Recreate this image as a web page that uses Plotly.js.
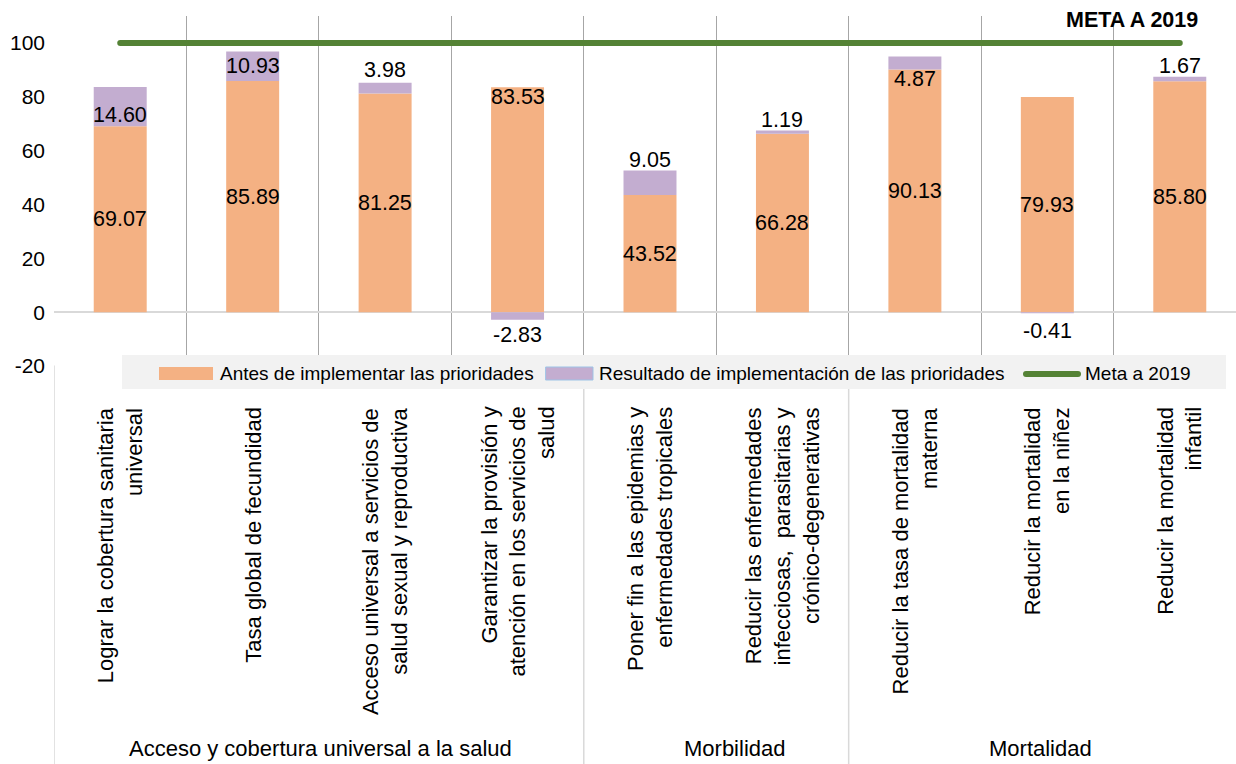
<!DOCTYPE html>
<html>
<head>
<meta charset="utf-8">
<script src="https://cdn.plot.ly/plotly-3.0.1.min.js"></script>
<style>
html,body{margin:0;padding:0;overflow:hidden;background:#ffffff;}
#chart{width:1246px;height:764px;}
#chart .scatterlayer .js-line{stroke-linecap:round;}
#chart .shapelayer path{stroke-linecap:round;}
</style>
</head>
<body>
<div id="chart"></div>
<script>
// ---------- DATA ----------
const categories = [
  "Lograr la cobertura sanitaria<br>universal",
  "Tasa global de fecundidad",
  "Acceso universal a servicios de<br>salud sexual y reproductiva",
  "Garantizar la provisión y<br>atención en los servicios de<br>salud",
  "Poner fin a las epidemias y<br>enfermedades tropicales",
  "Reducir las enfermedades<br>infecciosas,\u00a0 parasitarias y<br>crónico-degenerativas",
  "Reducir la tasa de mortalidad<br>materna",
  "Reducir la mortalidad<br>en la niñez",
  "Reducir la mortalidad<br>infantil"
];
const antes = [69.07, 85.89, 81.25, 83.53, 43.52, 66.28, 90.13, 79.93, 85.80];
const resultado = [14.60, 10.93, 3.98, -2.83, 9.05, 1.19, 4.87, -0.41, 1.67];
const meta = [100, 100, 100, 100, 100, 100, 100, 100, 100];

const groupNames = ["Acceso y cobertura universal a la salud", "Morbilidad", "Mortalidad"];
const groupFirstIndex = [0, 4, 6];

const yTickVals = [-20, 0, 20, 40, 60, 80, 100];
const yTickText = ["-20", "0", "20", "40", "60", "80", "100"];

const seriesNames = ["Antes de implementar las prioridades",
                     "Resultado de implementación de las prioridades",
                     "Meta a 2019"];
const metaTitle = "META A 2019";

// ---------- STYLE / LABEL PLACEMENT ----------
const colAntes = "#F4B183";
const colRes = "#C3ADD0";
const colMeta = "#548235";
const FONT = "Liberation Sans, Arial, Helvetica, sans-serif";
const antesLabelFrac = [0.5, 0.5, 0.5, 1, 0.5, 0.5, 0.5, 0.5, 0.5];
const antesLabelShift = [0, 0, 0, -10, 0, 0, 0, 0, 0];
const resLabelShift = [-28, -15, 13, -15, 11, 11, -23, -18, 11];
const groupLabelX = [1.51, 4.64, 6.95];

// plot geometry (pixels)
const L = 54, PW = 1192, T = 16, PH = 350;
const xp = px => (px - L) / PW;
const yp = py => (T + PH - py) / PH;

const traces = [
  {type: "bar", x: categories, y: antes, name: seriesNames[0], width: 0.4,
   marker: {color: colAntes, line: {width: 0}}, hoverinfo: "skip", showlegend: false},
  {type: "bar", x: categories, y: resultado, name: seriesNames[1], width: 0.4,
   marker: {color: colRes, line: {width: 0}}, hoverinfo: "skip", showlegend: false},
  {type: "scatter", mode: "lines", x: categories, y: meta, name: seriesNames[2],
   line: {color: colMeta, width: 6}, hoverinfo: "skip", showlegend: false}
];

const annotations = [];
const labelFont = {family: FONT, size: 21.5, color: "#000"};
categories.forEach((c, i) => {
  annotations.push({x: i, y: antes[i] * antesLabelFrac[i], yshift: antesLabelShift[i],
    xref: "x", yref: "y", text: antes[i].toFixed(2), showarrow: false, font: labelFont});
  // relative stacking: positive parts stack on top of "antes", negative parts hang below zero
  const segEnd = resultado[i] >= 0 ? antes[i] + resultado[i] : resultado[i];
  annotations.push({x: i, y: segEnd, yshift: resLabelShift[i],
    xref: "x", yref: "y", text: resultado[i].toFixed(2), showarrow: false, font: labelFont});
  annotations.push({x: i, y: yp(405), xref: "x", yref: "paper", text: c, textangle: -90,
    xanchor: "center", yanchor: "top", align: "right", showarrow: false,
    font: {family: FONT, size: 22, color: "#000"}});
});
groupNames.forEach((g, k) => {
  annotations.push({x: groupLabelX[k], y: yp(748), xref: "x", yref: "paper", text: g,
    xanchor: "center", yanchor: "middle", showarrow: false,
    font: {family: FONT, size: 22, color: "#000"}});
});
annotations.push({x: xp(1132), y: yp(20), xref: "paper", yref: "paper", text: "<b>" + metaTitle + "</b>",
  xanchor: "center", yanchor: "middle", showarrow: false, font: {family: FONT, size: 21.5, color: "#000"}});
// legend texts
const legTextX = [218, 597, 1083];
seriesNames.forEach((n, k) => {
  annotations.push({x: xp(legTextX[k]), y: yp(373), xref: "paper", yref: "paper", text: n,
    xanchor: "left", yanchor: "middle", showarrow: false,
    font: {family: FONT, size: 19, color: "#000"}});
});

const shapes = [];
// group separators extending below the plot
groupFirstIndex.forEach(gi => {
  shapes.push({type: "line", xref: "x", yref: "paper", x0: gi - 0.5, x1: gi - 0.5,
    y0: 0, y1: yp(764), line: {color: "#d9d9d9", width: 1.5}});
});
// legend box
shapes.push({type: "rect", xref: "paper", yref: "paper", x0: xp(122), x1: xp(1226), y0: yp(355), y1: yp(389),
  fillcolor: "#f2f2f2", line: {width: 0}});
shapes.push({type: "rect", xref: "paper", yref: "paper", x0: xp(159), x1: xp(213), y0: yp(367), y1: yp(380),
  fillcolor: colAntes, line: {width: 0}});
shapes.push({type: "rect", xref: "paper", yref: "paper", x0: xp(546), x1: xp(593), y0: yp(367), y1: yp(380),
  fillcolor: colRes, line: {width: 1, color: "#9dc3e6"}});
shapes.push({type: "line", xref: "paper", yref: "paper", x0: xp(1026), x1: xp(1078), y0: yp(374), y1: yp(374),
  line: {width: 6, color: colMeta}});

const layout = {
  width: 1246, height: 764,
  margin: {l: L, r: 0, t: T, b: 764 - T - PH, pad: 0},
  paper_bgcolor: "#ffffff", plot_bgcolor: "#ffffff",
  barmode: "relative",
  showlegend: false,
  font: {family: FONT, color: "#000"},
  xaxis: {type: "category", range: [-0.5, 8.5], tickson: "boundaries", showgrid: true,
    gridcolor: "#a6a6a6", gridwidth: 1, showticklabels: false, ticks: "", zeroline: false,
    showline: false, fixedrange: true},
  yaxis: {range: [-20, 110], tickvals: yTickVals, ticktext: yTickText, showgrid: false,
    zeroline: true, zerolinecolor: "#d9d9d9", zerolinewidth: 2, ticks: "", showline: false,
    ticklabelstandoff: 8, tickfont: {family: FONT, size: 21, color: "#000"}, fixedrange: true},
  annotations: annotations,
  shapes: shapes
};

Plotly.newPlot("chart", traces, layout, {staticPlot: true, displayModeBar: false});
</script>
</body>
</html>
